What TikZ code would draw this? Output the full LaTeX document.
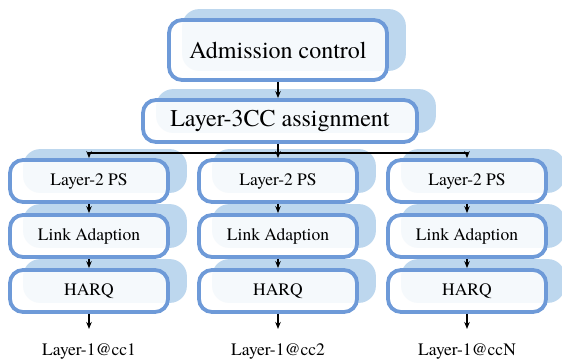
\documentclass[tikz,border=0pt]{standalone}
\usepackage{fontspec}
\setmainfont{texgyretermes-regular.otf}
\usetikzlibrary{arrows.meta,backgrounds}
\definecolor{edgeblue}{RGB}{110,154,216}
\definecolor{shadeblue}{RGB}{189,215,238}
\begin{document}
\begin{tikzpicture}[x=1pt,y=-1pt,
  box/.style={draw=edgeblue, line width=3.8pt, rounded corners=13pt,
    fill=white, fill opacity=0.85, text opacity=1, inner sep=0pt},
  bigbox/.style={box, font=\fontsize{24}{28}\selectfont},
  smallbox/.style={box, minimum width=158pt, minimum height=42pt,
    font=\fontsize{17.5}{20}\selectfont},
  shade/.style={fill=shadeblue, rounded corners=17pt},
  outlbl/.style={anchor=base, inner xsep=0pt, inner ysep=14pt,
    font=\fontsize{17.5}{20}\selectfont},
  arr/.style={-{Stealth[length=7pt,width=5.5pt]}, line width=1.2pt, black}]
\useasboundingbox (0,0) rectangle (562,361);

% top of the stack
\node[bigbox, minimum width=218pt, minimum height=60pt] (adm) at (278,50) {Admission control};
\node[bigbox, minimum width=274pt, minimum height=42pt] (l3) at (280,121) {Layer-3CC assignment};

% one column per component carrier
\foreach \i/\x/\cc in {1/89/cc1, 2/278/cc2, 3/467/ccN}{
  \node[smallbox] (ps\i) at (\x,181) {Layer-2 PS};
  \node[smallbox] (la\i) at (\x,236) {Link Adaption};
  \node[smallbox] (hq\i) at (\x,291) {HARQ};
  \node[outlbl] (out\i) at (\x,355) {Layer-1@\cc};
  \draw[arr] (ps\i) -- (la\i);
  \draw[arr] (la\i) -- (hq\i);
  \draw[arr] (hq\i) -- (out\i);
}

% soft backdrop behind every box, shifted up and to the right
\begin{scope}[on background layer]
  \foreach \n in {adm,l3,ps1,la1,hq1,ps2,la2,hq2,ps3,la3,hq3}{
    \fill[shade] ([shift={(15,-11)}]\n.south west) rectangle ([shift={(17,-9)}]\n.north east);
  }
\end{scope}

% connectors
\coordinate (j) at (278,153);
\draw[arr] (adm.south -| j) -- (l3.north -| j);
\draw[arr] (l3.south -| j) -- (ps2.north);
\draw[arr] (j) -| (ps1.north);
\draw[arr] (j) -| (ps3.north);
\end{tikzpicture}
\end{document}
